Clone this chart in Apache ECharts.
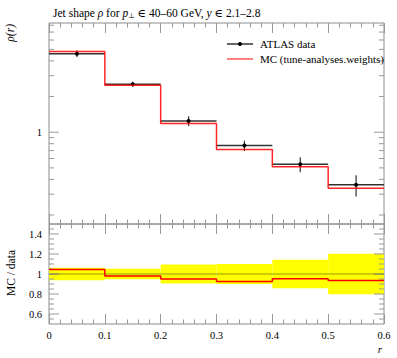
<!DOCTYPE html>
<html>
<head>
<meta charset="utf-8">
<script src="https://cdn.jsdelivr.net/npm/echarts@6/dist/echarts.min.js"></script>
<style>html,body{margin:0;padding:0;background:#fff}#c{width:397px;height:358px}</style>
</head>
<body>
<div id="c"></div>
<script>
// ---- data ----
const binEdges = [0, 0.1, 0.2, 0.3, 0.4, 0.5, 0.6];
const dataVals = [4.60, 2.54, 1.245, 0.771, 0.537, 0.3595];
const dataErr = [0.285, 0.132, 0.118, 0.077, 0.077, 0.073];
const mcVals = [4.81, 2.49, 1.183, 0.714, 0.512, 0.3365];
const ratioVals = [1.046, 0.98, 0.95, 0.926, 0.953, 0.936];
const xTickLabels = ['0', '0.1', '0.2', '0.3', '0.4', '0.5', '0.6'];
const logMajorTicks = [1];
const logMinorTicks = [0.2, 0.3, 0.4, 0.5, 0.6, 0.7, 0.8, 0.9, 2, 3, 4, 5, 6, 7, 8];
const logTickLabels = ['1'];
const ratioMajorTicks = [0.6, 0.8, 1.0, 1.2, 1.4];
const ratioMinorTicks = [0.55, 0.65, 0.7, 0.75, 0.85, 0.9, 0.95, 1.05, 1.1, 1.15, 1.25, 1.3, 1.35, 1.45];
const ratioTickLabels = ['0.6', '0.8', '1', '1.2', '1.4'];
const legendNames = ['ATLAS data', 'MC (tune-analyses.weights)'];

const FONT = "'Liberation Serif', 'DejaVu Serif', serif";
const TICK = '#999';
const xMin = binEdges[0], xMax = binEdges[binEdges.length - 1];

function stepData(vals) {
  return binEdges.map((e, i) => [e, vals[Math.min(i, vals.length - 1)]]);
}
function tickData(major, minor) {
  return major.map(v => [xMin, v, 1]).concat(minor.map(v => [xMin, v, 0]));
}
function tickRender(majorLen, minorLen) {
  return function (params, api) {
    const v = api.value(1), L = api.value(2) ? majorLen : minorLen;
    const pl = api.coord([xMin, v]), pr = api.coord([xMax, v]);
    return { type: 'group', children: [
      { type: 'line', shape: { x1: pl[0], y1: pl[1], x2: pl[0] + L, y2: pl[1] }, style: { stroke: TICK, lineWidth: 1 } },
      { type: 'line', shape: { x1: pr[0] - L, y1: pr[1], x2: pr[0], y2: pr[1] }, style: { stroke: TICK, lineWidth: 1 } }
    ] };
  };
}
function xAxisDef(grid, pos, labels) {
  return {
    gridIndex: grid, type: 'value', position: pos, min: xMin, max: xMax, interval: 0.1,
    axisLine: { show: false },
    axisTick: { show: true, inside: true, length: 10, lineStyle: { color: TICK } },
    minorTick: { show: true, splitNumber: 5, length: 4.5, lineStyle: { color: TICK } },
    splitLine: { show: false }, minorSplitLine: { show: false },
    axisLabel: labels ? { show: true, margin: 6, fontFamily: FONT, fontSize: 10.5, color: '#000',
      formatter: v => { const i = binEdges.findIndex(e => Math.abs(e - v) < 1e-9); return i >= 0 ? xTickLabels[i] : ''; } } : { show: false }
  };
}

const pointData = dataVals.map((v, i) => [(binEdges[i] + binEdges[i + 1]) / 2, v, binEdges[i], binEdges[i + 1], dataErr[i]]);
const bandData = dataVals.map((v, i) => [binEdges[i], 1 - dataErr[i] / v, binEdges[i + 1], 1 + dataErr[i] / v]);

const chart = echarts.init(document.getElementById('c'), null, { renderer: 'svg', width: 397, height: 358 });
chart.setOption({
  animation: false,
  backgroundColor: '#fff',
  title: [{
    left: 48, top: 2,
    text: 'Jet shape {i|ρ} for {i|p}{s|⊥} ∈ 40–60 GeV, {i|y} ∈ 2.1–2.8',
    textStyle: { fontFamily: FONT, fontSize: 11.5, fontWeight: 'normal', color: '#000',
      rich: { i: { fontFamily: FONT, fontSize: 11.5, fontStyle: 'italic', color: '#000' },
              s: { fontFamily: FONT, fontSize: 7, color: '#000', verticalAlign: 'bottom', padding: [4, 0, 0, 0] } } }
  }, {
    left: 260, top: 38, padding: 0, text: legendNames[0],
    textStyle: { fontFamily: FONT, fontSize: 11, fontWeight: 'normal', color: '#000', lineHeight: 12 }
  }, {
    left: 260, top: 53, padding: 0, text: legendNames[1],
    textStyle: { fontFamily: FONT, fontSize: 11, fontWeight: 'normal', color: '#000', lineHeight: 12 }
  }],
  grid: [
    { left: 49, top: 23, right: 13, height: 201, outerBoundsMode: 'none', show: true, borderColor: '#8c8c8c', borderWidth: 1, backgroundColor: 'transparent' },
    { left: 49, top: 224, right: 13, height: 100, outerBoundsMode: 'none', show: true, borderColor: '#8c8c8c', borderWidth: 1, backgroundColor: 'transparent' }
  ],
  xAxis: [xAxisDef(0, 'bottom', false), xAxisDef(0, 'top', false), xAxisDef(1, 'bottom', true), xAxisDef(1, 'top', false)],
  yAxis: [
    { gridIndex: 0, type: 'log', logBase: 10, min: 0.168, max: 8.35,
      axisLine: { show: false }, axisTick: { show: false }, splitLine: { show: false },
      axisLabel: { margin: 7, fontFamily: FONT, fontSize: 10.5, color: '#000',
        formatter: v => { const i = logMajorTicks.findIndex(t => Math.abs(t - v) < 1e-6); return i >= 0 ? logTickLabels[i] : ''; } } },
    { gridIndex: 1, type: 'value', min: 0.5, max: 1.5, interval: 0.1,
      axisLine: { show: false }, axisTick: { show: false }, splitLine: { show: false },
      axisLabel: { margin: 7, fontFamily: FONT, fontSize: 10.5, color: '#000',
        formatter: v => { const i = ratioMajorTicks.findIndex(t => Math.abs(t - v) < 1e-6); return i >= 0 ? ratioTickLabels[i] : ''; } } }
  ],
  series: [
    { type: 'custom', xAxisIndex: 0, yAxisIndex: 0, silent: true, clip: false, encode: { x: 0, y: 1 },
      data: tickData(logMajorTicks, logMinorTicks), renderItem: tickRender(10, 5) },
    { type: 'custom', xAxisIndex: 2, yAxisIndex: 1, silent: true, clip: false, encode: { x: 0, y: 1 },
      data: tickData(ratioMajorTicks, ratioMinorTicks), renderItem: tickRender(10, 5) },
    // data points with error bars
    { type: 'custom', name: legendNames[0], xAxisIndex: 0, yAxisIndex: 0, silent: true, z: 3, encode: { x: 0, y: 1 },
      data: pointData,
      renderItem: (params, api) => {
        const xc = api.value(0), y = api.value(1), e = api.value(4);
        const c = api.coord([xc, y]), lo = api.coord([api.value(2), y]), hi = api.coord([api.value(3), y]);
        const up = api.coord([xc, y + e]), dn = api.coord([xc, y - e]);
        return { type: 'group', children: [
          { type: 'line', shape: { x1: lo[0], y1: lo[1], x2: hi[0], y2: hi[1] }, style: { stroke: '#333', lineWidth: 1.5 } },
          { type: 'line', shape: { x1: up[0], y1: up[1], x2: dn[0], y2: dn[1] }, style: { stroke: '#333', lineWidth: 1.2 } },
          { type: 'circle', shape: { cx: c[0], cy: c[1], r: 2 }, style: { fill: '#000' } }
        ] };
      } },
    // MC step line
    { type: 'line', name: legendNames[1], xAxisIndex: 0, yAxisIndex: 0, step: 'end', symbol: 'none', z: 4,
      data: stepData(mcVals), lineStyle: { color: '#ff0000', width: 1.5, opacity: 0.85 } },
    // ratio band
    { type: 'custom', xAxisIndex: 2, yAxisIndex: 1, silent: true, z: 1, encode: { x: [0, 2], y: [1, 3] },
      data: bandData,
      renderItem: (params, api) => {
        const a = api.coord([api.value(0), api.value(3)]), b = api.coord([api.value(2), api.value(1)]);
        return { type: 'rect', shape: { x: a[0], y: a[1], width: b[0] - a[0], height: b[1] - a[1] }, style: { fill: '#ffff00' } };
      } },
    // unit line
    { type: 'line', xAxisIndex: 2, yAxisIndex: 1, symbol: 'none', z: 2, silent: true,
      data: [[xMin, 1], [xMax, 1]], lineStyle: { color: '#000', opacity: 0.4, width: 1 } },
    // ratio line
    { type: 'line', xAxisIndex: 2, yAxisIndex: 1, step: 'end', symbol: 'none', z: 3,
      data: stepData(ratioVals), lineStyle: { color: '#ff0000', width: 1.5 } }
  ],
  graphic: [
    { type: 'line', shape: { x1: 227, y1: 44, x2: 253, y2: 44 }, style: { stroke: '#333', lineWidth: 1.5 } },
    { type: 'circle', shape: { cx: 240, cy: 44, r: 2 }, style: { fill: '#000' } },
    { type: 'line', shape: { x1: 227, y1: 59, x2: 253, y2: 59 }, style: { stroke: '#ff0000', lineWidth: 1 } },
    { type: 'text', x: 10, y: 24, rotation: Math.PI / 2, style: { text: 'ρ(r)', fontFamily: FONT, fontStyle: 'italic', fontSize: 11.5, fill: '#000', align: 'right', verticalAlign: 'middle' } },
    { type: 'text', x: 11, y: 273, rotation: Math.PI / 2, style: { text: 'MC / data', fontFamily: FONT, fontSize: 11.5, fill: '#000', align: 'center', verticalAlign: 'middle' } },
    { type: 'text', x: 380, y: 348.5, style: { text: 'r', fontFamily: FONT, fontStyle: 'italic', fontSize: 11, fill: '#000', align: 'center', verticalAlign: 'middle' } }
  ]
});
</script>
</body>
</html>
